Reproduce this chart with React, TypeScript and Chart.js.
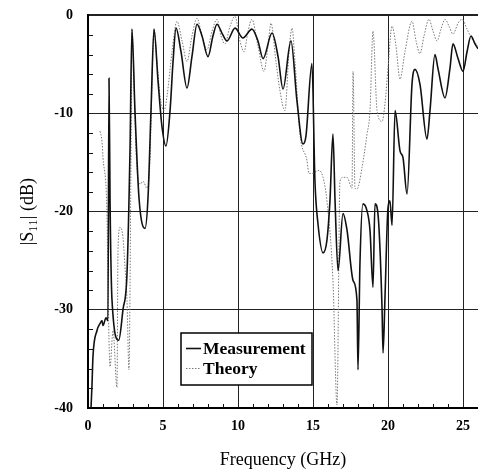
import React, { useEffect, useRef } from 'react';
import { Chart, registerables } from 'chart.js';
Chart.register(...registerables);

// Measurement (solid)
const measFreq = [0.2, 0.27, 0.33, 0.6, 0.8, 0.93, 1.0, 1.2, 1.33, 1.4, 1.47, 1.6, 2.05, 2.33, 2.6, 2.8, 2.93, 3.13, 3.4, 3.8, 4.0, 4.2, 4.4, 4.67, 4.93, 5.2, 5.47, 5.67, 5.87, 6.2, 6.6, 6.93, 7.27, 7.6, 8.0, 8.33, 8.6, 8.93, 9.27, 9.8, 10.33, 10.93, 11.33, 11.67, 12.27, 12.67, 13.0, 13.53, 13.93, 14.33, 14.53, 14.93, 15.13, 15.33, 15.67, 15.93, 16.13, 16.33, 16.47, 16.67, 17.0, 17.27, 17.67, 17.93, 18.0, 18.13, 18.33, 18.6, 18.8, 19.0, 19.13, 19.33, 19.6, 19.67, 19.8, 20.0, 20.13, 20.27, 20.47, 20.8, 21.0, 21.27, 21.6, 21.8, 22.13, 22.6, 22.8, 23.13, 23.33, 23.8, 24.13, 24.33, 24.67, 25.0, 25.27, 25.53, 25.8, 26.0];
const measDb = [-40, -37.5, -34.8, -32.1, -31.4, -31.1, -31.6, -30.8, -31.1, -6.4, -18.9, -29, -33.1, -30, -26.3, -13.8, -1.4, -9.7, -18.6, -21.7, -18.6, -9.7, -1.4, -6.7, -11.3, -13.3, -9.7, -4.7, -1.3, -3.7, -7.4, -4.2, -0.9, -2.1, -4.2, -2.1, -0.9, -1.8, -2.6, -1.3, -2.3, -1.4, -2.6, -4.4, -1.8, -4.2, -7.5, -2.6, -8.7, -13.1, -12.3, -4.9, -16.9, -21.2, -24.2, -22.9, -18.9, -12.1, -18.9, -26, -20.2, -21.9, -27, -29, -36.1, -25.3, -19.2, -19.9, -21.9, -27.7, -19.2, -20.2, -29.7, -34.4, -28.7, -19.6, -18.9, -21.4, -9.7, -13.8, -14.5, -18.2, -7, -5.5, -7, -12.6, -9.7, -4, -5.4, -8.4, -5.4, -2.9, -4.4, -5.7, -3.7, -2.1, -2.9, -3.4];

// Theory (dotted)
const theoFreq = [0.8, 0.93, 1.0, 1.27, 1.33, 1.47, 1.67, 1.93, 2.0, 2.13, 2.33, 2.47, 2.6, 2.73, 2.87, 2.93, 3.07, 3.2, 3.47, 3.67, 3.93, 4.13, 4.27, 4.4, 4.6, 4.8, 5.07, 5.27, 5.6, 5.93, 6.27, 6.6, 6.93, 7.27, 7.6, 7.93, 8.27, 8.6, 8.87, 9.13, 9.47, 9.8, 10.13, 10.4, 10.67, 10.93, 11.33, 11.73, 12.0, 12.2, 12.53, 12.8, 13.13, 13.4, 13.6, 13.8, 14.13, 14.6, 14.73, 14.93, 15.4, 15.67, 15.93, 16.33, 16.6, 16.8, 17.0, 17.27, 17.6, 17.67, 17.8, 17.93, 18.27, 18.6, 18.8, 19.0, 19.27, 19.6, 19.8, 20.0, 20.27, 20.53, 20.8, 21.13, 21.6, 21.87, 22.13, 22.4, 22.73, 23.0, 23.27, 23.53, 23.8, 24.07, 24.33, 24.67, 24.93, 25.27, 25.6, 26.0];
const theoDb = [-11.8, -12.8, -14.5, -20.6, -27.3, -35.8, -32.1, -37.9, -24, -21.6, -22.6, -25.7, -29, -36.1, -13.8, -1.4, -6.7, -13.8, -17.2, -16.9, -17.6, -14.8, -6.7, -1.4, -4.7, -8.2, -9.7, -8.2, -3.7, -0.6, -2.6, -4.7, -2.1, -0.3, -2.1, -3.5, -1.6, -0.4, -2.1, -2.9, -1.1, -0.1, -2.6, -3.7, -1.6, -0.4, -3.1, -5.7, -3.1, -0.8, -4.7, -7.7, -9.7, -3.7, -1.3, -4.7, -12.1, -14.8, -16.1, -16.1, -15.8, -16.5, -18.9, -27, -39.7, -16.9, -16.5, -16.5, -17.6, -5.7, -17.6, -17.7, -15.5, -12.1, -9.7, -1.6, -9.7, -10.8, -9.0, -5.4, -1.1, -3.1, -6.5, -3.7, -0.6, -2.6, -3.9, -2.1, -0.4, -1.6, -2.6, -1.4, -0.4, -1.1, -1.9, -0.8, -0.4, -1.4, -2.4, -3.1];

const seriesLabels = ['Measurement', 'Theory'];
const xTicks = [0, 5, 10, 15, 20, 25];
const yTicks = [0, -10, -20, -30, -40];
const xMinor = [1, 2, 3, 4, 6, 7, 8, 9, 11, 12, 13, 14, 16, 17, 18, 19, 21, 22, 23, 24, 26];
const yMinor = [-2, -4, -6, -8, -12, -14, -16, -18, -22, -24, -26, -28, -32, -34, -36, -38];

const SERIF = '"Liberation Serif", "Times New Roman", "DejaVu Serif", serif';

export default function App() {
  const ref = useRef<HTMLCanvasElement>(null);
  useEffect(() => {
    const canvas = ref.current;
    if (!canvas) return;

    const minorTicks = {
      id: 'minorTicks',
      afterDatasetsDraw(chart: any) {
        const { ctx, chartArea } = chart;
        const xs = chart.scales.x, ys = chart.scales.y;
        ctx.save();
        ctx.strokeStyle = '#111';
        ctx.lineWidth = 1;
        ctx.beginPath();
        yMinor.forEach((v) => {
          const y = Math.round(ys.getPixelForValue(v)) + 0.5;
          ctx.moveTo(chartArea.left, y);
          ctx.lineTo(chartArea.left + 5, y);
        });
        xMinor.forEach((v) => {
          const x = Math.round(xs.getPixelForValue(v)) + 0.5;
          ctx.moveTo(x, chartArea.bottom);
          ctx.lineTo(x, chartArea.bottom - 4);
        });
        ctx.stroke();
        ctx.restore();
      },
    };

    const boxLegend = {
      id: 'boxLegend',
      afterDraw(chart: any) {
        const { ctx } = chart;
        const xs = chart.scales.x, ys = chart.scales.y;
        const l = Math.round(xs.getPixelForValue(6.2));
        const r = Math.round(xs.getPixelForValue(14.93));
        const t = Math.round(ys.getPixelForValue(-32.4));
        const b = Math.round(ys.getPixelForValue(-37.7));
        ctx.save();
        ctx.fillStyle = '#fff';
        ctx.fillRect(l, t, r - l, b - t);
        ctx.strokeStyle = '#000';
        ctx.lineWidth = 1.5;
        ctx.strokeRect(l, t, r - l, b - t);
        chart.data.datasets.forEach((ds: any, i: number) => {
          const y = t + 15 + i * 20;
          ctx.beginPath();
          ctx.setLineDash(ds.borderDash || []);
          ctx.strokeStyle = ds.borderColor;
          ctx.lineWidth = ds.borderWidth;
          ctx.moveTo(l + 5, y + 0.5);
          ctx.lineTo(l + 20, y + 0.5);
          ctx.stroke();
          ctx.setLineDash([]);
          ctx.fillStyle = '#000';
          ctx.font = 'bold 17.5px ' + SERIF;
          ctx.textBaseline = 'middle';
          ctx.textAlign = 'left';
          ctx.fillText(ds.label, l + 22, y + 1);
        });
        ctx.restore();
      },
    };

    const chart = new Chart(canvas, {
      type: 'line',
      data: {
        datasets: [
          {
            label: seriesLabels[0],
            data: measFreq.map((f, i) => ({ x: f, y: measDb[i] })),
            borderColor: '#111',
            borderWidth: 1.6,
            pointRadius: 0,
            fill: false,
            tension: 0.3,
            cubicInterpolationMode: 'monotone',
          },
          {
            label: seriesLabels[1],
            data: theoFreq.map((f, i) => ({ x: f, y: theoDb[i] })),
            borderColor: '#7a7a7a',
            borderWidth: 1,
            borderDash: [1.5, 1.5],
            pointRadius: 0,
            fill: false,
            tension: 0.3,
            cubicInterpolationMode: 'monotone',
          },
        ],
      },
      options: {
        animation: false,
        responsive: false,
        layout: { padding: { top: 6, right: 0, left: 0, bottom: 0 } },
        plugins: { legend: { display: false }, tooltip: { enabled: false } },
        scales: {
          x: {
            type: 'linear',
            min: 0,
            max: 26,
            afterBuildTicks: (s: any) => { s.ticks = xTicks.map((v) => ({ value: v })); },
            afterFit: (s: any) => { s.height = 64; },
            ticks: {
              autoSkip: false,
              maxRotation: 0,
              color: '#000',
              padding: 10,
              font: { family: SERIF, size: 14, weight: 'bold' },
              callback: (v: any) => String(v),
            },
            grid: { color: '#222', lineWidth: 1, drawTicks: false },
            border: { color: '#000', width: 2 },
            title: {
              display: true,
              text: 'Frequency (GHz)',
              color: '#000',
              font: { family: SERIF, size: 18 },
              padding: { top: 0, bottom: 1 },
            },
          },
          y: {
            type: 'linear',
            min: -40,
            max: 0,
            afterBuildTicks: (s: any) => { s.ticks = yTicks.map((v) => ({ value: v })); },
            afterFit: (s: any) => { s.width = 88; },
            ticks: {
              color: '#000',
              padding: 15,
              font: { family: SERIF, size: 14, weight: 'bold' },
              callback: (v: any) => String(v),
            },
            grid: {
              color: '#222',
              lineWidth: (c: any) => (c.tick && c.tick.value === 0 ? 2 : 1),
              drawTicks: false,
            },
            border: { color: '#000', width: 2 },
            title: {
              display: true,
              text: '|S₁₁| (dB)',
              color: '#000',
              font: { family: SERIF, size: 18 },
              padding: { top: 17, bottom: 0 },
            },
          },
        },
      },
      plugins: [minorTicks, boxLegend],
    } as any);
    return () => chart.destroy();
  }, []);

  return (
    <div style={{ position: 'fixed', left: 0, top: 0, width: 478, height: 472, overflow: 'hidden', background: '#fff' }}>
      <canvas ref={ref} width={480} height={480} style={{ display: 'block', position: 'absolute', left: 0, top: -8 }} />
    </div>
  );
}
